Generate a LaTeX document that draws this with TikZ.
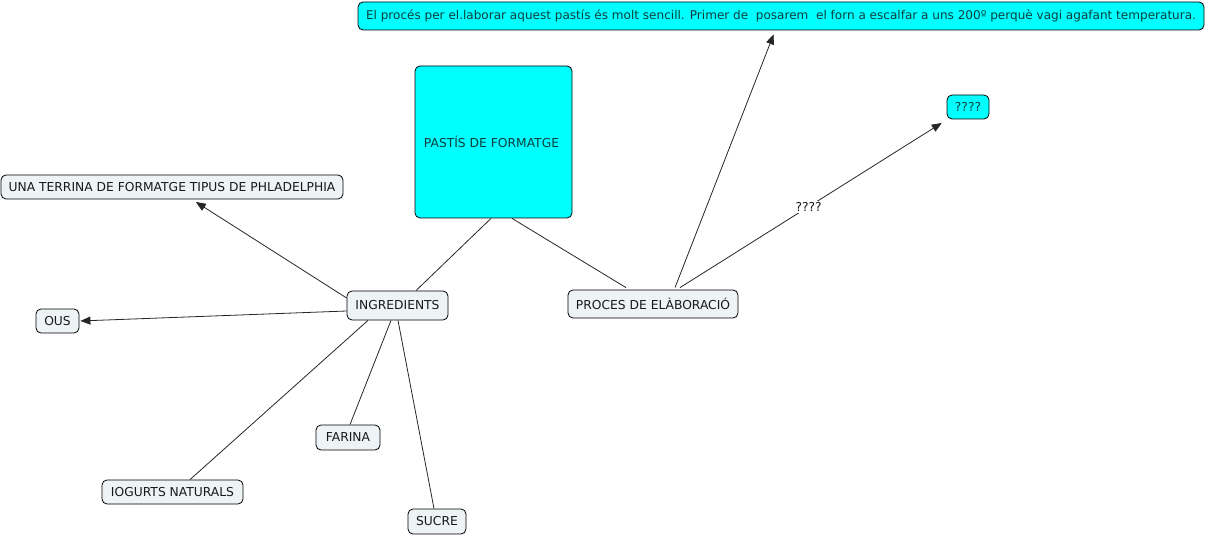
\documentclass[tikz,border=0pt]{standalone}
\usepackage{fontspec}
\setmainfont{DejaVu Sans}
\usetikzlibrary{arrows.meta}
\definecolor{nodefill}{HTML}{EEF3F6}
\definecolor{cyanfill}{HTML}{00FFFF}
\definecolor{cyantext}{HTML}{0C3F3A}
\tikzset{
  concept/.style={draw=black, line width=0.8pt, rounded corners=5pt, fill=nodefill, inner sep=0pt, font=\fontsize{12.3}{14}\selectfont, text=black!90},
  cyanbox/.style={concept, fill=cyanfill, text=cyantext},
  link/.style={draw=black!85, line width=0.8pt},
  arrowlink/.style={link, -{Triangle[length=10pt,width=8pt]}, shorten >=1pt},
  lbl/.style={fill=white, inner sep=1.5pt, font=\fontsize{12.3}{14}\selectfont, text=black!90}
}
\begin{document}
\begin{tikzpicture}[x=1pt,y=-1pt]
\useasboundingbox (0,0) rectangle (1207,537);
\node[cyanbox, minimum width=846pt, minimum height=28pt, font=\fontsize{12.05}{14}\selectfont] (top) at (781,16) {El procés per el.laborar aquest pastís és molt sencill. Primer de\ \ posarem\ \ el forn a escalfar a uns 200º perquè vagi agafant temperatura.};
\node[cyanbox, minimum width=157pt, minimum height=152pt] (pastis) at (493.5,142) {\hspace*{-4pt}PASTÍS DE FORMATGE};
\node[cyanbox, minimum width=42pt, minimum height=24pt] (q) at (968,107) {????};
\node[concept, minimum width=342pt, minimum height=24pt] (terr) at (172,187) {UNA TERRINA DE FORMATGE TIPUS DE PHLADELPHIA};
\node[concept, minimum width=101pt, minimum height=29pt] (ing) at (397.5,305.5) {INGREDIENTS};
\node[concept, minimum width=170pt, minimum height=28pt] (proc) at (653,304) {PROCES DE ELÀBORACIÓ};
\node[concept, minimum width=43pt, minimum height=24pt] (ous) at (57.5,321) {OUS};
\node[concept, minimum width=64pt, minimum height=25pt] (farina) at (348,437.5) {FARINA};
\node[concept, minimum width=141pt, minimum height=24pt] (iog) at (172.5,492) {IOGURTS NATURALS};
\node[concept, minimum width=58pt, minimum height=25pt] (sucre) at (437,521.5) {SUCRE};

\draw[link] ([xshift=-2.5pt]pastis.south) -- ([xshift=18.5pt]ing.north);
\draw[link] ([xshift=18.5pt]pastis.south) -- ([xshift=-27pt,yshift=2pt]proc.north);
\draw[arrowlink] ([yshift=7.5pt]ing.west) -- ([xshift=23pt,yshift=-2pt]terr.south);
\draw[arrowlink] ([yshift=-5.5pt]ing.west) -- (ous.east);
\draw[link] ([xshift=-29.5pt]ing.south) -- ([xshift=17.5pt]iog.north);
\draw[link] ([xshift=-6.5pt]ing.south) -- ([xshift=2pt]farina.north);
\draw[link] ([xshift=0.5pt]ing.south) -- ([xshift=-3pt]sucre.north);
\draw[arrowlink] ([xshift=22pt,yshift=2pt]proc.north) -- ([xshift=-7pt,yshift=-3pt]top.south);
\draw[arrowlink] ([xshift=27pt,yshift=2pt]proc.north) -- ([xshift=-4pt,yshift=-3pt]q.south west) node[lbl, pos=0.49] (lab) {????};
\end{tikzpicture}
\end{document}
